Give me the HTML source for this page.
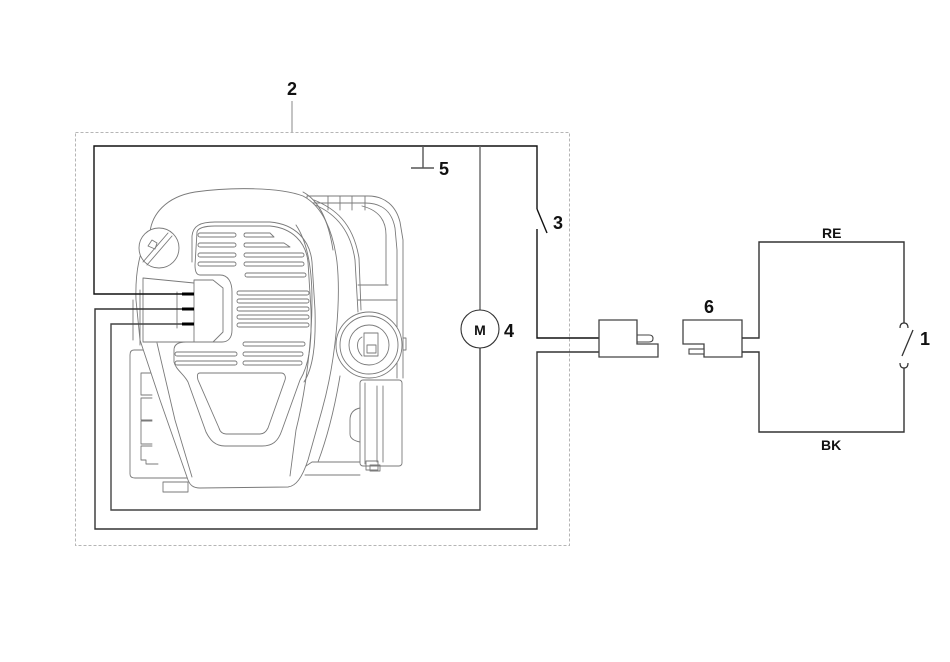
<!DOCTYPE html>
<html>
<head>
<meta charset="utf-8">
<style>
html,body{margin:0;padding:0;background:#fff;}
body{width:950px;height:662px;overflow:hidden;position:relative;}
svg{position:absolute;left:0;top:0;}
text{font-family:"Liberation Sans",Arial,sans-serif;font-weight:bold;fill:#111;}
</style>
</head>
<body>
<svg width="950" height="662" viewBox="0 0 950 662" xmlns="http://www.w3.org/2000/svg">
  <!-- dashed assembly border -->
  <rect x="75.5" y="132.5" width="494" height="413" fill="none" stroke="#b5b5b5" stroke-width="1" stroke-dasharray="3 2"/>
  <line x1="292" y1="101" x2="292" y2="132" stroke="#b0b0b0" stroke-width="1.5"/>

  <!-- ENGINE DRAWING -->
  <g fill="none" stroke="#7a7a7a" stroke-width="0.9" stroke-linejoin="round" stroke-linecap="round">
    <!-- right shroud -->
    <path d="M307,203 L307,196 L368,196 C385,196 396,206 400,222 L403,240 L403,378"/>
    <path d="M312,203 L365,203 C383,203 392,212 395,228 L397,250 L397,378"/>
    <path d="M328,196 L328,210 M340,196 L340,210 M352,196 L352,210 M365,196 L365,210"/>
    <path d="M362,206 C378,210 386,220 386,235 L386,285"/>
    <path d="M358,285 L388,285 M358,300 L397,300"/>
    <path d="M403,338 L406,338 L406,350 L403,350"/>
    <!-- housing/right boundary -->
    <path d="M310,203 C330,210 350,225 355,260 L358,312"/>
    <path d="M314,200 C334,208 353,222 359,258 L361,310"/>
    <path d="M340,376 C336,400 330,430 318,462"/>
    <!-- fuel cap -->
    <circle cx="369" cy="345" r="33" fill="#fff"/>
    <circle cx="369" cy="345" r="29"/>
    <circle cx="369" cy="345" r="20"/>
    <rect x="364" y="333" width="14" height="23"/>
    <rect x="367" y="345" width="9" height="8"/>
    <path d="M362,337 C356,340 356,350 362,356"/>
    <!-- battery box -->
    <rect x="360" y="380" width="42" height="86" rx="3" fill="#fff"/>
    <path d="M365,383 L365,464 M377,386 L377,462 M383,386 L383,462"/>
    <path d="M360,408 Q350,410 350,420 L350,434 Q350,440 360,442"/>
    <rect x="366" y="461" width="12" height="9"/>
    <rect x="370" y="465" width="10" height="6"/>
    <!-- right lower base -->
    <path d="M300,470 L312,462 L360,462 M305,475 L360,475"/>

    <!-- left lower box -->
    <path d="M165,350 L134,350 C131,350 130,352 130,355 L130,474 C130,477 132,478 135,478 L192,478"/>
    <path d="M152,373 L141,373 L141,395 L152,395 M152,398 L141,398 L141,420 L152,420 M152,421 L141,421 L141,444 L152,444 M152,446 L141,446 L141,460 L146,460 L146,464 L158,464"/>
    <rect x="163" y="482" width="25" height="10" fill="#fff"/>

    <!-- front housing -->
    <path fill="#fff" d="M150,232 C152,215 165,197 195,192 C230,187 280,187 303,196 C322,206 333,230 337,262 C341,300 336,360 322,410 L308,460 C302,478 296,486 288,487 L200,488 C193,488 190,485 188,480 L160,400 L140,340 L136,300 C135,270 140,250 150,232 Z"/>
    <path d="M157,343 L175,420 L192,477"/>
    <path d="M296,225 C306,240 312,265 312,300 C312,340 306,390 296,430 L290,476"/>
    <path d="M303,192 C318,200 328,218 333,250"/>

    <!-- grille panel outer contour -->
    <path d="M192,262 L192,236 C193,226 200,222 215,222 L270,222 C295,224 310,240 312,262 L315,310 C316,345 313,368 304,382"/>
    <!-- grille panel -->
    <path d="M197,232 C198,228 205,226 215,226 L270,226 C292,228 306,242 308,262 L311,310 C312,345 309,365 300,380 L282,430 C278,442 272,446 262,446 L225,446 C215,446 210,440 206,432 L188,382 C184,374 176,370 174,362 L174,350 C174,345 178,342 186,342 L222,342 C228,342 232,338 232,330 L232,292 C232,282 228,275 220,275 L200,275 C196,275 195,270 195,265 Z"/>
    <!-- funnel -->
    <path d="M200,373 L281,373 C285,373 286,377 285,380 L268,428 C266,432 263,434 260,434 L226,434 C223,434 220,432 219,428 L198,380 C197,376 197,373 200,373 Z"/>

    <!-- slots -->
    <g>
      <rect x="198" y="233" width="38" height="4" rx="2"/>
      <rect x="198" y="243" width="38" height="4" rx="2"/>
      <rect x="198" y="253" width="38" height="4" rx="2"/>
      <rect x="198" y="262" width="38" height="4" rx="2"/>
      <path d="M246,233 L270,233 L274,237 L246,237 Q244,237 244,235 Q244,233 246,233 Z"/>
      <path d="M246,243 L284,243 L290,247 L246,247 Q244,247 244,245 Q244,243 246,243 Z"/>
      <rect x="244" y="253" width="60" height="4" rx="2"/>
      <rect x="244" y="262" width="60" height="4" rx="2"/>
      <rect x="245" y="273" width="61" height="4" rx="2"/>
      <rect x="237" y="291" width="72" height="4" rx="2"/>
      <rect x="237" y="299" width="72" height="4" rx="2"/>
      <rect x="237" y="307" width="72" height="4" rx="2"/>
      <rect x="237" y="315" width="72" height="4" rx="2"/>
      <rect x="237" y="323" width="72" height="4" rx="2"/>
      <rect x="243" y="342" width="62" height="4" rx="2"/>
      <rect x="175" y="352" width="62" height="4" rx="2"/>
      <rect x="243" y="352" width="60" height="4" rx="2"/>
      <rect x="175" y="361" width="62" height="4" rx="2"/>
      <rect x="243" y="361" width="59" height="4" rx="2"/>
    </g>

    <!-- oil cap -->
    <circle cx="159" cy="248" r="20" fill="#fff"/>
    <path d="M143,262 L168,233 M147,265 L172,236"/>
    <path d="M148,246 L152,240 L157,243 L155,249 Z"/>

    <!-- engine connector area -->
    <path d="M143,278 L194,283 M143,278 L143,342 L194,342"/>
    <path d="M133,300 L133,340 M140,290 L140,345 M177,292 L177,328"/>
    <path fill="#fff" d="M194,280 L213,280 L223,288 L223,332 L213,342 L194,342 Z"/>
  </g>

  <!-- WIRING -->
  <g fill="none" stroke-linejoin="miter">
    <path d="M194,294 L94,294 L94,146 L537,146 L537,209" stroke="#111" stroke-width="1.4"/>
    <path d="M537,209 L547,233" stroke="#111" stroke-width="1.4"/>
    <path d="M537,229 L537,338 L599,338" stroke="#111" stroke-width="1.4"/>
    <path d="M194,309 L95,309 L95,529 L537,529 L537,352 L599,352" stroke="#333" stroke-width="1.4"/>
    <path d="M194,324 L111,324 L111,510 L480,510 L480,348" stroke="#444" stroke-width="1.4"/>
    <path d="M480,310 L480,146" stroke="#666" stroke-width="1.4"/>
    <path d="M423,146 L423,168 M411,168 L434,168" stroke="#555" stroke-width="1.4"/>
    <path d="M182,294 L194,294 M182,309 L194,309 M182,324 L194,324" stroke="#000" stroke-width="3"/>
    <circle cx="480" cy="329" r="19" stroke="#333" stroke-width="1.1" fill="#fff"/>

    <!-- connector left -->
    <path d="M599,320 L637,320 L637,344 L658,344 L658,357 L599,357 Z" stroke="#444" stroke-width="1.3" fill="#fff"/>
    <path d="M637,335 L649,335 Q653,335 653,338.5 Q653,342 649,342 L637,342" stroke="#444" stroke-width="1.1"/>
    <!-- connector right -->
    <path d="M683,320 L742,320 L742,357 L704,357 L704,344 L683,344 Z" stroke="#444" stroke-width="1.3" fill="#fff"/>
    <rect x="689" y="349" width="15" height="5" stroke="#444" stroke-width="1.1" fill="#fff"/>

    <!-- right loop -->
    <path d="M742,338 L759,338 L759,242 L904,242 L904,323" stroke="#333" stroke-width="1.4"/>
    <path d="M742,352 L759,352 L759,432 L904,432 L904,368" stroke="#333" stroke-width="1.4"/>
    <path d="M900,328 Q900,323 904,323 Q908,323 908,328" stroke="#333" stroke-width="1.2"/>
    <path d="M913,330 L902,356" stroke="#333" stroke-width="1.3"/>
    <path d="M900,363 Q900,368 904,368 Q908,368 908,363" stroke="#333" stroke-width="1.2"/>
  </g>

  <!-- LABELS -->
  <text x="287" y="95" font-size="18">2</text>
  <text x="439" y="175" font-size="18">5</text>
  <text x="553" y="229" font-size="18">3</text>
  <text x="504" y="337" font-size="18">4</text>
  <text x="480" y="335" font-size="14" text-anchor="middle">M</text>
  <text x="704" y="313" font-size="18">6</text>
  <text x="920" y="345" font-size="18">1</text>
  <text x="822" y="238" font-size="14">RE</text>
  <text x="821" y="450" font-size="14">BK</text>
</svg>
</body>
</html>
